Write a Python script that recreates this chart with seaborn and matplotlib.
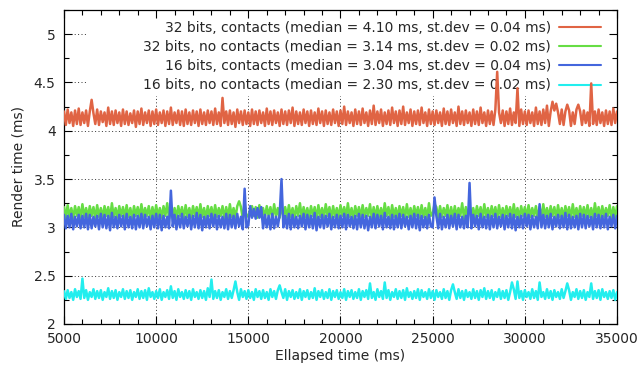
import numpy as np
import pandas as pd
import matplotlib
matplotlib.use("Agg")
import matplotlib.pyplot as plt
import seaborn as sns
from matplotlib.patches import Rectangle
from matplotlib.ticker import MultipleLocator

# elapsed time, one reading every 100 ms
elapsed = np.arange(5000, 35001, 100)

# render times (ms)
bits32_contacts = [
    4.20, 4.06, 4.22, 4.08, 4.19, 4.05, 4.21, 4.07, 4.23, 4.06,
    4.19, 4.08, 4.21, 4.05, 4.20, 4.32, 4.18, 4.07, 4.22, 4.06,
    4.20, 4.09, 4.19, 4.05, 4.24, 4.07, 4.20, 4.06, 4.21, 4.08,
    4.19, 4.05, 4.22, 4.07, 4.20, 4.06, 4.18, 4.08, 4.21, 4.04,
    4.20, 4.07, 4.23, 4.06, 4.19, 4.08, 4.21, 4.05, 4.20, 4.07,
    4.22, 4.06, 4.19, 4.08, 4.21, 4.05, 4.20, 4.07, 4.24, 4.06,
    4.19, 4.08, 4.21, 4.06, 4.20, 4.05, 4.22, 4.07, 4.19, 4.06,
    4.21, 4.08, 4.20, 4.05, 4.22, 4.07, 4.19, 4.06, 4.21, 4.08,
    4.20, 4.06, 4.23, 4.07, 4.19, 4.05, 4.34, 4.08, 4.20, 4.06,
    4.21, 4.07, 4.19, 4.04, 4.22, 4.08, 4.20, 4.06, 4.21, 4.07,
    4.19, 4.05, 4.22, 4.07, 4.20, 4.06, 4.21, 4.08, 4.19, 4.05,
    4.23, 4.07, 4.20, 4.06, 4.21, 4.08, 4.19, 4.05, 4.22, 4.07,
    4.20, 4.06, 4.21, 4.08, 4.24, 4.05, 4.20, 4.07, 4.19, 4.06,
    4.22, 4.08, 4.20, 4.05, 4.21, 4.07, 4.19, 4.06, 4.23, 4.08,
    4.20, 4.05, 4.21, 4.07, 4.19, 4.06, 4.22, 4.08, 4.20, 4.05,
    4.21, 4.07, 4.25, 4.06, 4.20, 4.08, 4.19, 4.05, 4.22, 4.07,
    4.20, 4.06, 4.23, 4.08, 4.19, 4.05, 4.21, 4.07, 4.26, 4.06,
    4.20, 4.08, 4.22, 4.05, 4.19, 4.07, 4.21, 4.06, 4.24, 4.08,
    4.20, 4.05, 4.21, 4.07, 4.25, 4.06, 4.19, 4.08, 4.22, 4.05,
    4.20, 4.07, 4.21, 4.06, 4.24, 4.08, 4.19, 4.05, 4.22, 4.07,
    4.20, 4.06, 4.21, 4.08, 4.19, 4.05, 4.23, 4.07, 4.20, 4.06,
    4.22, 4.08, 4.19, 4.05, 4.25, 4.07, 4.20, 4.06, 4.21, 4.08,
    4.19, 4.05, 4.22, 4.07, 4.20, 4.06, 4.24, 4.08, 4.19, 4.05,
    4.21, 4.07, 4.20, 4.06, 4.22, 4.61, 4.19, 4.08, 4.21, 4.05,
    4.20, 4.07, 4.23, 4.06, 4.19, 4.08, 4.44, 4.05, 4.22, 4.07,
    4.20, 4.06, 4.21, 4.08, 4.19, 4.05, 4.24, 4.07, 4.20, 4.06,
    4.22, 4.08, 4.26, 4.05, 4.20, 4.30, 4.21, 4.28, 4.19, 4.07,
    4.22, 4.06, 4.20, 4.27, 4.21, 4.05, 4.19, 4.07, 4.22, 4.27,
    4.20, 4.06, 4.21, 4.08, 4.19, 4.05, 4.49, 4.07, 4.20, 4.06,
    4.22, 4.08, 4.19, 4.05, 4.21, 4.07, 4.20, 4.06, 4.23, 4.08,
    4.20,
]
bits32_no_contacts = [
    3.21, 3.10, 3.23, 3.11, 3.20, 3.09, 3.22, 3.12, 3.21, 3.10,
    3.24, 3.11, 3.20, 3.10, 3.22, 3.12, 3.21, 3.09, 3.23, 3.11,
    3.20, 3.10, 3.22, 3.12, 3.21, 3.09, 3.25, 3.11, 3.20, 3.10,
    3.22, 3.12, 3.21, 3.10, 3.23, 3.11, 3.20, 3.09, 3.22, 3.12,
    3.21, 3.10, 3.24, 3.11, 3.20, 3.12, 3.22, 3.09, 3.21, 3.10,
    3.23, 3.11, 3.20, 3.10, 3.22, 3.12, 3.25, 3.09, 3.21, 3.11,
    3.20, 3.10, 3.22, 3.12, 3.21, 3.09, 3.23, 3.11, 3.20, 3.10,
    3.22, 3.12, 3.21, 3.10, 3.24, 3.11, 3.20, 3.09, 3.22, 3.12,
    3.21, 3.10, 3.23, 3.11, 3.20, 3.12, 3.22, 3.09, 3.21, 3.10,
    3.24, 3.11, 3.20, 3.10, 3.22, 3.27, 3.21, 3.09, 3.23, 3.11,
    3.12, 3.18, 3.22, 3.12, 3.21, 3.10, 3.23, 3.11, 3.20, 3.10,
    3.22, 3.12, 3.21, 3.09, 3.24, 3.11, 3.20, 3.10, 3.22, 3.12,
    3.21, 3.10, 3.23, 3.11, 3.20, 3.09, 3.22, 3.12, 3.25, 3.10,
    3.21, 3.11, 3.20, 3.10, 3.22, 3.12, 3.21, 3.09, 3.23, 3.11,
    3.20, 3.10, 3.24, 3.12, 3.21, 3.09, 3.22, 3.11, 3.20, 3.10,
    3.23, 3.12, 3.21, 3.10, 3.25, 3.11, 3.20, 3.09, 3.22, 3.12,
    3.21, 3.10, 3.23, 3.11, 3.20, 3.12, 3.24, 3.09, 3.21, 3.10,
    3.22, 3.11, 3.20, 3.10, 3.25, 3.12, 3.21, 3.09, 3.23, 3.11,
    3.20, 3.10, 3.22, 3.12, 3.21, 3.09, 3.24, 3.11, 3.20, 3.10,
    3.22, 3.12, 3.21, 3.10, 3.23, 3.11, 3.20, 3.09, 3.25, 3.12,
    3.14, 3.24, 3.21, 3.10, 3.22, 3.11, 3.20, 3.12, 3.23, 3.09,
    3.21, 3.10, 3.22, 3.11, 3.20, 3.12, 3.25, 3.09, 3.21, 3.10,
    3.23, 3.11, 3.20, 3.10, 3.22, 3.12, 3.21, 3.09, 3.24, 3.11,
    3.20, 3.10, 3.22, 3.12, 3.21, 3.09, 3.23, 3.11, 3.20, 3.10,
    3.22, 3.12, 3.21, 3.10, 3.24, 3.11, 3.20, 3.09, 3.22, 3.12,
    3.21, 3.10, 3.23, 3.11, 3.20, 3.12, 3.22, 3.09, 3.21, 3.10,
    3.24, 3.11, 3.20, 3.10, 3.22, 3.12, 3.21, 3.09, 3.23, 3.11,
    3.20, 3.10, 3.22, 3.12, 3.21, 3.09, 3.24, 3.11, 3.20, 3.10,
    3.22, 3.12, 3.21, 3.10, 3.23, 3.11, 3.20, 3.09, 3.25, 3.12,
    3.21, 3.10, 3.22, 3.11, 3.20, 3.12, 3.23, 3.09, 3.21, 3.10,
    3.22,
]
bits16_contacts = [
    3.13, 2.99, 3.12, 3.00, 3.14, 2.98, 3.11, 3.01, 3.13, 2.99,
    3.12, 3.00, 3.14, 2.98, 3.13, 2.99, 3.11, 3.01, 3.12, 2.98,
    3.14, 3.00, 3.13, 2.99, 3.12, 2.97, 3.15, 3.00, 3.11, 2.99,
    3.13, 3.01, 3.12, 2.98, 3.14, 3.00, 3.11, 2.99, 3.13, 2.98,
    3.12, 3.00, 3.14, 2.99, 3.13, 3.01, 3.11, 2.98, 3.12, 3.00,
    3.14, 2.99, 3.13, 2.97, 3.12, 3.00, 3.11, 2.99, 3.38, 3.01,
    3.13, 2.98, 3.12, 3.00, 3.14, 2.99, 3.11, 3.01, 3.13, 2.98,
    3.12, 3.00, 3.15, 2.99, 3.13, 2.97, 3.11, 3.00, 3.12, 2.99,
    3.14, 3.01, 3.13, 2.98, 3.12, 3.00, 3.11, 2.99, 3.14, 2.98,
    3.13, 3.00, 3.12, 2.99, 3.14, 3.01, 3.11, 2.98, 3.40, 3.00,
    3.02, 3.22, 3.10, 3.19, 3.09, 3.20, 3.10, 3.21, 2.99, 3.13,
    3.00, 3.12, 2.98, 3.14, 2.99, 3.11, 3.01, 3.13, 3.50, 3.00,
    3.12, 2.99, 3.14, 2.98, 3.13, 3.00, 3.11, 2.99, 3.12, 3.01,
    3.14, 2.98, 3.13, 3.00, 3.12, 2.99, 3.15, 2.97, 3.11, 3.00,
    3.13, 2.99, 3.12, 3.01, 3.14, 2.98, 3.11, 3.00, 3.13, 2.99,
    3.12, 3.00, 3.14, 2.98, 3.13, 3.01, 3.11, 2.99, 3.12, 2.98,
    3.14, 3.00, 3.13, 2.99, 3.12, 2.97, 3.11, 3.00, 3.14, 2.99,
    3.13, 3.01, 3.12, 2.98, 3.15, 3.00, 3.11, 2.99, 3.13, 2.98,
    3.12, 3.00, 3.14, 2.99, 3.13, 3.01, 3.11, 2.98, 3.12, 3.00,
    3.14, 2.99, 3.13, 2.97, 3.12, 3.00, 3.11, 2.99, 3.13, 3.01,
    3.00, 3.31, 3.12, 2.99, 3.14, 2.98, 3.11, 3.00, 3.13, 2.99,
    3.12, 3.01, 3.14, 2.98, 3.13, 3.00, 3.11, 2.99, 3.12, 3.00,
    3.46, 2.99, 3.13, 3.01, 3.12, 2.98, 3.14, 3.00, 3.11, 2.99,
    3.13, 2.98, 3.12, 3.00, 3.14, 2.99, 3.11, 3.01, 3.13, 2.98,
    3.12, 3.00, 3.14, 2.99, 3.13, 2.97, 3.11, 3.00, 3.12, 2.99,
    3.14, 3.01, 3.13, 2.98, 3.12, 3.00, 3.11, 2.99, 3.24, 3.00,
    3.13, 2.99, 3.12, 3.00, 3.14, 2.98, 3.11, 3.01, 3.13, 2.99,
    3.12, 3.00, 3.15, 2.98, 3.13, 2.99, 3.11, 3.00, 3.12, 2.98,
    3.14, 3.00, 3.13, 2.99, 3.12, 3.01, 3.11, 2.98, 3.14, 3.00,
    3.13, 2.99, 3.12, 3.00, 3.14, 2.98, 3.11, 3.01, 3.13, 2.99,
    3.12,
]
bits16_no_contacts = [
    2.34, 2.26, 2.35, 2.27, 2.33, 2.25, 2.36, 2.28, 2.34, 2.26,
    2.47, 2.27, 2.35, 2.25, 2.33, 2.28, 2.36, 2.26, 2.34, 2.27,
    2.35, 2.25, 2.33, 2.28, 2.37, 2.26, 2.34, 2.27, 2.35, 2.25,
    2.33, 2.28, 2.36, 2.26, 2.34, 2.27, 2.35, 2.25, 2.33, 2.28,
    2.36, 2.26, 2.34, 2.27, 2.35, 2.25, 2.37, 2.28, 2.33, 2.26,
    2.34, 2.27, 2.36, 2.25, 2.33, 2.28, 2.35, 2.26, 2.39, 2.27,
    2.34, 2.25, 2.36, 2.28, 2.33, 2.26, 2.35, 2.27, 2.34, 2.25,
    2.36, 2.28, 2.33, 2.26, 2.35, 2.27, 2.34, 2.25, 2.37, 2.28,
    2.46, 2.26, 2.34, 2.27, 2.35, 2.25, 2.33, 2.28, 2.36, 2.26,
    2.34, 2.27, 2.35, 2.44, 2.33, 2.25, 2.36, 2.28, 2.34, 2.26,
    2.35, 2.27, 2.33, 2.25, 2.36, 2.28, 2.34, 2.26, 2.35, 2.27,
    2.33, 2.25, 2.36, 2.28, 2.34, 2.26, 2.35, 2.40, 2.33, 2.27,
    2.36, 2.25, 2.34, 2.28, 2.35, 2.26, 2.33, 2.27, 2.36, 2.25,
    2.34, 2.28, 2.35, 2.26, 2.33, 2.27, 2.37, 2.25, 2.34, 2.28,
    2.35, 2.26, 2.33, 2.27, 2.36, 2.25, 2.34, 2.28, 2.35, 2.26,
    2.33, 2.27, 2.36, 2.25, 2.34, 2.28, 2.35, 2.26, 2.33, 2.27,
    2.36, 2.25, 2.34, 2.28, 2.35, 2.26, 2.42, 2.27, 2.33, 2.25,
    2.36, 2.28, 2.34, 2.26, 2.43, 2.27, 2.35, 2.25, 2.33, 2.28,
    2.36, 2.26, 2.34, 2.27, 2.35, 2.25, 2.37, 2.28, 2.33, 2.26,
    2.34, 2.27, 2.36, 2.25, 2.35, 2.28, 2.33, 2.26, 2.36, 2.27,
    2.34, 2.25, 2.35, 2.28, 2.33, 2.26, 2.36, 2.27, 2.34, 2.25,
    2.35, 2.41, 2.33, 2.26, 2.36, 2.27, 2.34, 2.25, 2.35, 2.28,
    2.33, 2.26, 2.36, 2.27, 2.34, 2.25, 2.35, 2.28, 2.37, 2.26,
    2.34, 2.27, 2.35, 2.25, 2.33, 2.28, 2.36, 2.26, 2.34, 2.27,
    2.35, 2.25, 2.33, 2.43, 2.36, 2.26, 2.44, 2.27, 2.34, 2.25,
    2.35, 2.28, 2.33, 2.26, 2.36, 2.27, 2.34, 2.25, 2.43, 2.28,
    2.33, 2.26, 2.36, 2.27, 2.34, 2.25, 2.35, 2.28, 2.33, 2.26,
    2.36, 2.27, 2.34, 2.42, 2.35, 2.25, 2.33, 2.28, 2.36, 2.26,
    2.34, 2.27, 2.35, 2.25, 2.33, 2.28, 2.42, 2.26, 2.34, 2.27,
    2.35, 2.25, 2.36, 2.28, 2.33, 2.26, 2.34, 2.27, 2.35, 2.25,
    2.33,
]

labels = [
    "32 bits, contacts (median = 4.10 ms, st.dev = 0.04 ms)",
    "32 bits, no contacts (median = 3.14 ms, st.dev = 0.02 ms)",
    "16 bits, contacts (median = 3.04 ms, st.dev = 0.04 ms)",
    "16 bits, no contacts (median = 2.30 ms, st.dev = 0.02 ms)",
]
colors = ["#e06444", "#66dd44", "#4466dd", "#22eeee"]

# long table for seaborn
series = [bits32_contacts, bits32_no_contacts, bits16_contacts, bits16_no_contacts]
df = pd.concat(
    [pd.DataFrame({"t": elapsed, "ms": vals, "run": lab}) for vals, lab in zip(series, labels)],
    ignore_index=True,
)

sns.set_style("ticks")
plt.rcParams["font.family"] = ["DejaVu Sans"]

fig = plt.figure(figsize=(6.41, 3.74), dpi=100)
ax = fig.add_axes([0.0998, 0.1337, 0.8628, 0.8396])

sns.lineplot(data=df, x="t", y="ms", hue="run", palette=colors, hue_order=labels,
             estimator=None, sort=False, linewidth=1.8, ax=ax, zorder=3)

# axes setup
ax.set_xlim(5000, 35000)
ax.set_ylim(2, 5.25)
ax.xaxis.set_major_locator(MultipleLocator(5000))
ax.xaxis.set_minor_locator(MultipleLocator(1000))
ax.set_yticks([2, 2.5, 3, 3.5, 4, 4.5, 5])
ax.set_yticklabels(["2", "2.5", "3", "3.5", "4", "4.5", "5"])
ax.yaxis.set_minor_locator(MultipleLocator(0.25))
ax.tick_params(which="both", direction="in", top=True, right=True, labelsize=10, color="black")
ax.tick_params(which="major", length=5.5, width=0.8, pad=6)
ax.tick_params(which="minor", length=3.3, width=0.8)
ax.set_axisbelow(False)
for s in ax.spines.values():
    s.set_linewidth(0.9)
    s.set_color("black")

# dotted grid, kept under the key box
grid_kw = dict(linestyle=(0, (1, 2.5)), color="#333333", linewidth=0.7, zorder=1)
for y in [2.5, 3, 3.5, 4, 4.5, 5]:
    ax.axhline(y, **grid_kw)
for x in [10000, 15000, 20000, 25000, 30000]:
    ax.axvline(x, **grid_kw)
ax.add_patch(Rectangle((0.043, 0.726), 0.957, 0.274, transform=ax.transAxes,
                       facecolor="white", edgecolor="none", zorder=1.5))

ax.set_xlabel("Ellapsed time (ms)", fontsize=10, labelpad=2)
ax.set_ylabel("Render time (ms)", fontsize=10, labelpad=6)

# gnuplot-style key: text right-aligned, sample on the right
leg = ax.legend(loc="upper right", bbox_to_anchor=(0.981, 0.9825), markerfirst=False,
                frameon=False, fontsize=10, handlelength=3.0, handletextpad=0.6,
                labelspacing=0.37, borderaxespad=0)
leg.set_zorder(2.8)
for h in leg.get_lines():
    h.set_linewidth(1.5)

fig.savefig("out.png", dpi=100)
